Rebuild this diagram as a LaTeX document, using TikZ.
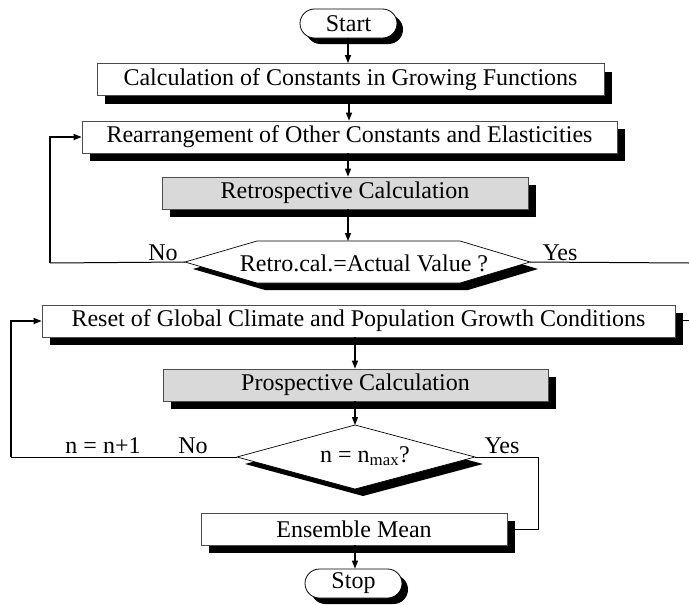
\documentclass[tikz,border=0pt]{standalone}
\usepackage{fontspec}
\setmainfont{Liberation Serif}
\usetikzlibrary{shapes.misc,shadows,arrows.meta,calc}
\begin{document}
\begin{tikzpicture}[x=1pt,y=-1pt,
  txt/.style={font=\fontsize{24}{28}\selectfont},
  proc/.style={txt,draw=black!70,line width=0.8pt,fill=white,minimum height=32pt,inner sep=0pt,
    drop shadow={shadow xshift=8pt,shadow yshift=-8pt,opacity=1,fill=black}},
  grayproc/.style={proc,fill=black!15},
  term/.style={txt,rounded rectangle,draw=black,line width=0.8pt,fill=white,minimum width=97pt,minimum height=29pt,inner sep=0pt,
    drop shadow={shadow xshift=6pt,shadow yshift=-6pt,opacity=1,fill=black}},
  decide/.style={draw=black,line width=0.7pt,fill=white,
    drop shadow={shadow xshift=8pt,shadow yshift=-7pt,opacity=1,fill=black}},
  conn/.style={line width=1.2pt,-{Triangle[length=8pt,width=6pt]}},
  line/.style={line width=1pt},
  lbl/.style={txt,anchor=base,inner sep=0pt}]
\useasboundingbox[fill=white] (0,0) rectangle (689,605);

% upper part
\node[term] (start) at (348.5,23.5) {Start};
\node[proc,minimum width=507pt] (calc) at (350.5,79.5) {Calculation of Constants in Growing Functions};
\node[proc,minimum width=535pt] (rearr) at (349.5,137) {Rearrangement of Other Constants and Elasticities};
\node[grayproc,minimum width=366pt] (retro) at (345,193) {Retrospective Calculation};

\draw[decide] (185,262) coordinate (hexL) -- (257,241) -- (460,241) -- (530,262) coordinate (hexR)
  -- (460,283) -- (257,283) -- cycle;
\coordinate (hexT) at (348,241);
\node[txt,inner sep=0pt] (hex) at (364,263) {Retro.cal.=Actual Value ?};

\draw[conn] (start.south -| 348,0) -- (calc.north -| 348,0);
\draw[conn] (calc.south -| 349,0) -- (rearr.north -| 349,0);
\draw[conn] (rearr.south -| 348,0) -- (retro.north -| 348,0);
\draw[conn] (retro.south -| 348,0) -- (hexT);

\coordinate (noUp) at (50,263);
\draw[line] (hexL) -- (noUp);
\draw[conn] (noUp) |- (rearr.west);
\coordinate (yesUp) at (689,263);
\draw[line] (hexR) -- (yesUp);
\node[lbl] (noU) at (163,260) {No};
\node[lbl] (yesU) at (560,260) {Yes};

% lower part
\node[proc,minimum width=633pt] (reset) at (358.5,321) {Reset of Global Climate and Population Growth Conditions};
\node[grayproc,minimum width=385pt] (prosp) at (355.5,385) {Prospective Calculation};

\draw[decide] (237,457) coordinate (diaL) -- (355,425) coordinate (diaT) -- (475,457) coordinate (diaR)
  -- (355,489) -- cycle;
\node[txt,inner sep=0pt] (dia) at (365,456) {n = n\textsubscript{max}?};

\node[proc,minimum width=306pt] (ens) at (354,529) {Ensemble Mean};
\node[term] (stop) at (353.5,583.5) {Stop};

\draw[conn] (reset.south -| 355,0) -- (prosp.north -| 355,0);
\draw[conn] (prosp.south -| 355,0) -- (diaT);
\draw[conn] (ens.south -| 355,0) -- (stop.north -| 355,0);

\coordinate (noLo) at (11,457);
\draw[line] (diaL) -- (noLo);
\draw[conn] (noLo) |- (reset.west);
\coordinate (yesLo) at (538,457);
\draw[line] (diaR) -- (yesLo) |- ($(ens.east)+(8,0)$);
\coordinate (resetOut) at (689,320);
\draw[line] ($(reset.east)+(8,-1)$) -- (resetOut);

\node[lbl] (noL) at (193,453) {No};
\node[lbl] (yesL) at (502,453) {Yes};
\node[lbl] (incr) at (103,453) {n = n+1};
\end{tikzpicture}
\end{document}
